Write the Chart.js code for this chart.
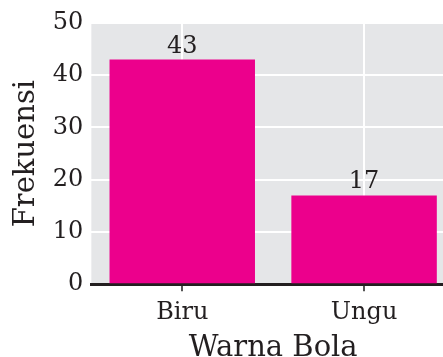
<!DOCTYPE html>
<html>
<head>
<meta charset="utf-8">
<script src="https://cdn.jsdelivr.net/npm/chart.js@4"></script>
<style>
  html, body { margin: 0; padding: 0; background: #fff; overflow: hidden; }
  #wrap { width: 455px; height: 357px; }
</style>
</head>
<body>
<div id="wrap"><canvas id="chart"></canvas></div>
<script>
const categories = ["Biru", "Ungu"];
const frekuensi = [43, 17];
const yTicks = [0, 10, 20, 30, 40, 50];

const FONT = "'DejaVu Serif', serif";
const TEXT = "#231f20";

// gray panel behind the plot
const panelBg = {
  id: "panelBg",
  beforeDraw(chart) {
    const { ctx, chartArea: a } = chart;
    ctx.save();
    ctx.fillStyle = "#e5e6e8";
    ctx.fillRect(a.left, a.top, a.right - a.left, a.bottom - a.top);
    ctx.restore();
  },
};

// numbers above each bar
const barValues = {
  id: "barValues",
  afterDatasetsDraw(chart) {
    const { ctx } = chart;
    const meta = chart.getDatasetMeta(0);
    ctx.save();
    ctx.font = "24px " + FONT;
    ctx.fillStyle = TEXT;
    ctx.textAlign = "center";
    ctx.textBaseline = "alphabetic";
    meta.data.forEach((bar, i) => {
      ctx.fillText(String(frekuensi[i]), bar.x, bar.y - 7);
    });
    ctx.restore();
  },
};

new Chart(document.getElementById("chart"), {
  type: "bar",
  data: {
    labels: categories,
    datasets: [
      {
        data: frekuensi,
        backgroundColor: "#ec008c",
        categoryPercentage: 0.8,
        barPercentage: 1.0,
      },
    ],
  },
  options: {
    responsive: true,
    maintainAspectRatio: false,
    animation: false,
    layout: { padding: { top: 23, right: 0, left: 9, bottom: -2 } },
    plugins: { legend: { display: false }, tooltip: { enabled: false } },
    scales: {
      x: {
        grid: {
          offset: false,
          color: "#ffffff",
          lineWidth: 2,
          tickColor: "#555555",
          tickLength: 7,
        },
        border: { display: true, color: "#231f20", width: 3 },
        ticks: { color: TEXT, font: { family: FONT, size: 24 }, padding: 7 },
        title: {
          display: true,
          text: "Warna Bola",
          color: TEXT,
          font: { family: FONT, size: 29, lineHeight: 1 },
          padding: { top: 0, bottom: -4 },
        },
      },
      y: {
        min: 0,
        max: 50,
        afterBuildTicks(scale) {
          scale.ticks = yTicks.map((v) => ({ value: v }));
        },
        grid: { color: "#ffffff", lineWidth: 2, drawTicks: false },
        border: { display: false },
        ticks: { color: TEXT, font: { family: FONT, size: 24 }, padding: 8 },
        title: {
          display: true,
          text: "Frekuensi",
          color: TEXT,
          font: { family: FONT, size: 29 },
          padding: { top: 0, bottom: 1 },
        },
      },
    },
  },
  plugins: [panelBg, barValues],
});
</script>
</body>
</html>
